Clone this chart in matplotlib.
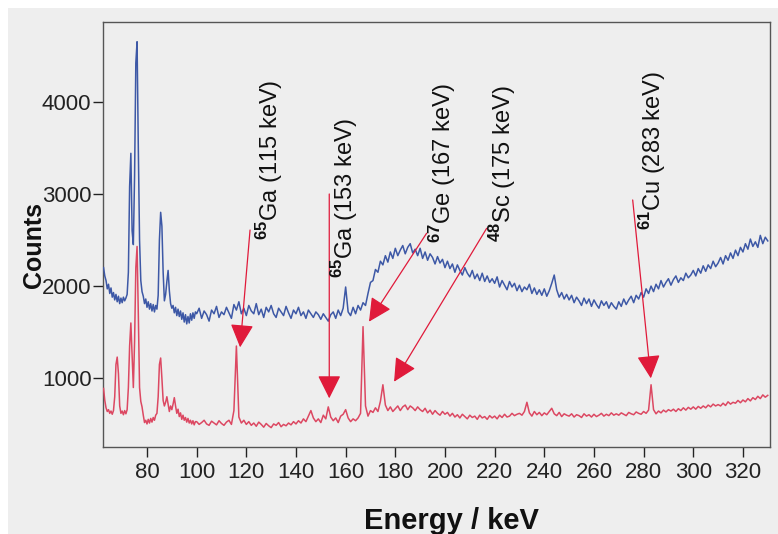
import numpy as np
import matplotlib
matplotlib.use("Agg")
import matplotlib.pyplot as plt
from matplotlib.patches import Rectangle

FONT = 'Liberation Sans'
plt.rcParams['font.family'] = [FONT, 'DejaVu Sans']
plt.rcParams['mathtext.fontset'] = 'custom'
plt.rcParams['mathtext.rm'] = FONT
plt.rcParams['mathtext.bf'] = FONT + ':bold'

# ---------------- data ----------------
energy_fine = np.arange(62.5, 100.0, 0.5)      # 0.5 keV channels
energy_coarse = np.arange(100, 331, 1)          # 1 keV channels

blue_fine = [2200, 2110, 2060, 1970, 2020, 1920, 1980, 1880, 1930, 1850,
             1910, 1830, 1890, 1810, 1870, 1820, 1880, 1840, 1870, 1910,
             2150, 3080, 3440, 2600, 2450, 3200, 4420, 4650, 3500, 2500,
             2060, 1940, 1890, 1810, 1860, 1770, 1830, 1750, 1810, 1730,
             1800, 1720, 1790, 1750, 1900, 2500, 2800, 2650, 2150, 1840,
             1910, 2050, 2170, 1950, 1810, 1760, 1790, 1710, 1770, 1680,
             1750, 1670, 1730, 1640, 1710, 1610, 1690, 1590, 1670, 1600,
             1700, 1630, 1710, 1650, 1720]
blue_coarse = [1700, 1760, 1650, 1730, 1690, 1620, 1740, 1700, 1780, 1660,
               1720, 1690, 1770, 1710, 1650, 1800, 1740, 1830, 1700, 1760,
               1680, 1790, 1730, 1700, 1810, 1690, 1750, 1660, 1770, 1720,
               1790, 1700, 1660, 1760, 1720, 1680, 1780, 1710, 1650, 1740,
               1700, 1770, 1680, 1720, 1650, 1740, 1700, 1660, 1720, 1690,
               1640, 1700, 1660, 1620, 1690, 1720, 1650, 1740, 1680, 1760,
               1990, 1720, 1680, 1770, 1700, 1790, 1740, 1820, 1790, 1920,
               2040, 2060, 2180, 2150, 2270, 2230, 2330, 2260, 2370, 2300,
               2410, 2330, 2390, 2440, 2350, 2420, 2460, 2360, 2400, 2330,
               2410, 2300, 2370, 2280, 2350, 2310, 2240, 2320, 2250, 2290,
               2200, 2270, 2190, 2240, 2150, 2230, 2170, 2120, 2200, 2140,
               2100, 2170, 2080, 2130, 2060, 2140, 2050, 2110, 2040, 2080,
               2030, 2100, 1990, 2060, 2010, 1960, 2050, 1990, 2030, 1950,
               2010, 1940, 1990, 1960, 2020, 1920, 1980, 1910, 1960, 1900,
               1970, 1890, 1950, 2030, 2120, 1960, 1880, 1930, 1860, 1910,
               1850, 1900, 1820, 1880, 1840, 1790, 1870, 1810, 1860, 1780,
               1850, 1800, 1760, 1840, 1790, 1830, 1760, 1820, 1780, 1750,
               1830, 1780, 1860, 1800, 1850, 1890, 1820, 1900, 1860, 1930,
               1880, 1970, 1920, 2000, 1940, 2020, 1970, 2060, 1990, 2040,
               2080, 2010, 2070, 2110, 2040, 2090, 2060, 2140, 2090, 2120,
               2170, 2110, 2190, 2140, 2220, 2160, 2230, 2190, 2270, 2210,
               2250, 2310, 2240, 2330, 2280, 2360, 2300, 2390, 2330, 2420,
               2370, 2460, 2400, 2510, 2430, 2480, 2420, 2550, 2460, 2530,
               2490]

red_fine = [890, 760, 680, 640, 660, 620, 645, 610, 650, 800,
            1150, 1230, 1050, 700, 620, 645, 605, 650, 615, 660,
            900, 1350, 1600, 1250, 900, 1400, 2200, 2430, 1700, 900,
            750, 690, 600, 520, 545, 505, 555, 515, 565, 525,
            575, 545, 600, 620, 800, 1150, 1220, 1000, 760, 700,
            740, 800, 720, 640, 700, 660, 720, 790, 700, 620,
            665, 585, 625, 555, 600, 545, 575, 525, 565, 515,
            545, 505, 540, 495, 530]
red_coarse = [530, 500, 520, 545, 505, 490, 535, 515, 495, 540,
              510, 490, 525, 545, 500, 650, 1350, 580, 515, 545,
              500, 530, 490, 515, 480, 525, 500, 470, 510, 485,
              465, 505, 490, 520, 475, 500, 485, 515, 495, 530,
              505, 540, 515, 560, 530, 590, 650, 570, 530, 560,
              520, 600, 560, 690, 580, 540, 570, 520, 590, 610,
              660, 570, 530, 560, 540, 570, 620, 1560, 700, 590,
              650, 630, 680, 640, 750, 930, 710, 650, 690, 640,
              670, 700, 650, 690, 710, 660, 700, 680, 650, 690,
              660, 640, 675, 625, 655, 610, 650, 620, 600, 640,
              610, 630, 590, 620, 580, 605, 570, 610, 585, 560,
              600, 575, 590, 555, 600, 570, 585, 555, 595, 570,
              590, 560, 600, 575, 610, 580, 590, 620, 595, 610,
              620, 600, 640, 740, 625, 590, 640, 605, 630, 595,
              625, 605, 640, 675, 615, 595, 630, 585, 615, 600,
              590, 615, 580, 605, 595, 575, 615, 590, 605, 580,
              610, 585, 600, 620, 590, 610, 595, 625, 600, 615,
              600, 625, 610, 595, 630, 615, 605, 635, 620, 610,
              640, 620, 655, 930, 660, 615, 645, 625, 655, 635,
              660, 645, 665, 640, 670, 650, 680, 655, 685, 665,
              690, 665, 695, 675, 700, 680, 710, 690, 720, 700,
              715, 700, 730, 705, 745, 720, 740, 730, 760, 735,
              765, 745, 780, 755, 790, 770, 805, 780, 820, 795,
              815]

labels = [r"$^{\mathbf{65}}$Ga (115 keV)", r"$^{\mathbf{65}}$Ga (153 keV)",
          r"$^{\mathbf{67}}$Ge (167 keV)", r"$^{\mathbf{48}}$Sc (175 keV)",
          r"$^{\mathbf{61}}$Cu (283 keV)"]
label_x = [129.5, 159.7, 199.2, 223.0, 283.4]
label_y = [2500, 2088, 2468, 2478, 2608]
arrow_start_x = [121.5, 153.4, 192.6, 216.8, 275.6]
arrow_start_y = [2608, 2999, 2573, 2627, 2934]
arrow_tip_x = [117.5, 153.4, 169.4, 179.5, 282.9]
arrow_tip_y = [1336, 783, 1614, 963, 1000]

x_ticks = [80, 100, 120, 140, 160, 180, 200, 220, 240, 260, 280, 300, 320]
y_ticks = [1000, 2000, 3000, 4000]

# ---------------- figure ----------------
W, H = 778, 534
fig = plt.figure(figsize=(W / 100, H / 100), dpi=100, facecolor='white')
fig.patches.append(Rectangle((8 / W, 0), 1, 1 - 8 / H, transform=fig.transFigure,
                             facecolor='#eeeeee', edgecolor='none', zorder=-10))
ax = fig.add_axes([103.3 / W, 1 - 447 / H, (770 - 103.3) / W, (447 - 22) / H])
ax.set_facecolor('#eeeeee')

energy = np.concatenate([energy_fine, energy_coarse])
blue = np.array(blue_fine + blue_coarse)
red = np.array(red_fine + red_coarse)

ax.plot(energy, blue, color='#3d58a6', lw=1.1, zorder=3)
ax.plot(energy, red, color='#dc4862', lw=1.1, zorder=3)

for sx, sy, tx, ty in zip(arrow_start_x, arrow_start_y, arrow_tip_x, arrow_tip_y):
    ax.annotate('', xy=(tx, ty), xytext=(sx, sy),
                arrowprops=dict(arrowstyle='-|>,head_length=0.72,head_width=0.36',
                                mutation_scale=20, color='#e01a3a', lw=0.9,
                                shrinkA=0, shrinkB=0), zorder=4)

for lx, ly, txt in zip(label_x, label_y, labels):
    ax.text(lx, ly, txt, rotation=90, ha='center', va='bottom',
            fontsize=17, color='#111111', zorder=5)

ax.set_xlim(62.4, 330.9)
ax.set_ylim(255, 4864)
ax.set_xticks(x_ticks)
ax.set_yticks(y_ticks)
ax.tick_params(axis='both', labelsize=16, colors='#222222', width=1.0, length=7.5,
               pad=1, direction='out')
ax.tick_params(axis='x', pad=3)
for sp in ax.spines.values():
    sp.set_color('#555555')
    sp.set_linewidth(1.0)

fig.text(34 / W, 1 - 245 / H, 'Counts', rotation=90, ha='center', va='center',
         fontsize=18, fontweight='bold', color='#111111')
fig.text(451 / W, 1 - 521 / H, 'Energy / keV', ha='center', va='center',
         fontsize=21, fontweight='bold', color='#111111')

fig.savefig('out.png', dpi=100, facecolor=fig.get_facecolor())
